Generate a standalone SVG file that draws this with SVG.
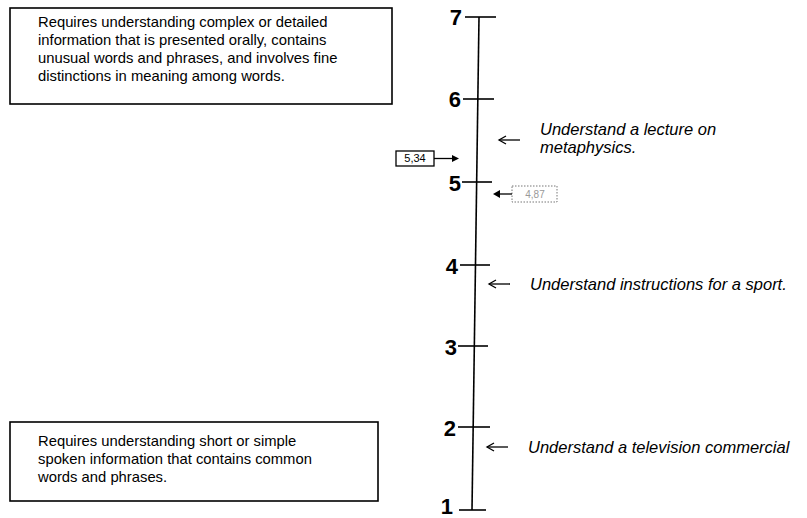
<svg xmlns="http://www.w3.org/2000/svg" width="807" height="518" viewBox="0 0 807 518">
<style>
.box{fill:#fff;stroke:#000;stroke-width:1.6}
.bt{font-family:"Liberation Sans",Arial,sans-serif;font-size:14.8px;fill:#000}
.it{font-family:"Liberation Sans",Arial,sans-serif;font-size:16.5px;font-style:italic;fill:#000}
.num{font-family:"Liberation Sans",Arial,sans-serif;font-size:22px;font-weight:bold;fill:#000;text-anchor:end}
.ax{stroke:#000;stroke-width:1.6;fill:none}
.ar{stroke:#000;stroke-width:1.3;fill:none}
</style>
<rect width="807" height="518" fill="#fff"/>
<g id="box-high">
<rect class="box" x="10" y="8" width="382" height="96"/>
<text class="bt" x="38" y="27">Requires understanding complex or detailed</text>
<text class="bt" x="38" y="45">information that is presented orally, contains</text>
<text class="bt" x="38" y="63">unusual words and phrases, and involves fine</text>
<text class="bt" x="38" y="81">distinctions in meaning among words.</text>
</g>
<g id="box-low">
<rect class="box" x="10" y="422" width="368" height="79"/>
<text class="bt" x="38" y="446">Requires understanding short or simple</text>
<text class="bt" x="38" y="464">spoken information that contains common</text>
<text class="bt" x="38" y="482">words and phrases.</text>
</g>
<g id="scale">
<line class="ax" x1="479" y1="17" x2="472" y2="510"/>
<line class="ax" x1="465" y1="17" x2="496" y2="17"/>
<line class="ax" x1="463" y1="99" x2="494" y2="99"/>
<line class="ax" x1="462" y1="182" x2="492" y2="182"/>
<line class="ax" x1="460" y1="265" x2="490" y2="265"/>
<line class="ax" x1="458" y1="346" x2="488" y2="346"/>
<line class="ax" x1="458" y1="427" x2="490" y2="427"/>
<line class="ax" x1="459" y1="510" x2="486" y2="510"/>
<text class="num" x="462" y="25">7</text>
<text class="num" x="461" y="107">6</text>
<text class="num" x="461" y="191">5</text>
<text class="num" x="458" y="274">4</text>
<text class="num" x="457" y="355">3</text>
<text class="num" x="456" y="436">2</text>
<text class="num" x="453" y="514">1</text>
</g>
<g id="score-534">
<rect x="396" y="151" width="38" height="15" fill="#fff" stroke="#000" stroke-width="1.3"/>
<text x="415" y="162" font-family="Liberation Sans,Arial,sans-serif" font-size="11" text-anchor="middle">5,34</text>
</g>
<g id="score-487">
<rect x="512" y="186" width="45" height="16" fill="#fff" stroke="#777" stroke-width="1" stroke-dasharray="1.5,1.5"/>
<text x="535" y="198" font-family="Liberation Sans,Arial,sans-serif" font-size="10" fill="#999" text-anchor="middle">4,87</text>
</g>
<g id="label-metaphysics">
<text class="it" x="540" y="135">Understand a lecture on</text>
<text class="it" x="540" y="153">metaphysics.</text>
</g>
<g id="label-sport">
<text class="it" x="530" y="290">Understand instructions for a sport.</text>
</g>
<g id="label-tv">
<text class="it" x="528" y="453">Understand a television commercial</text>
</g>
<g id="connectors">
<line class="ar" x1="520" y1="140" x2="499" y2="140"/>
<polyline class="ar" points="506,136 499,140 506,144"/>
<line class="ar" x1="510" y1="284" x2="489" y2="284"/>
<polyline class="ar" points="496,280 489,284 496,288"/>
<line class="ar" x1="508" y1="447" x2="487" y2="447"/>
<polyline class="ar" points="494,443 487,447 494,451"/>
<line class="ar" x1="434" y1="158.5" x2="454" y2="158.5"/>
<polygon points="459,158.5 452,155 452,162" fill="#000"/>
<line class="ar" x1="512" y1="194" x2="498" y2="194"/>
<polygon points="493,194 500,190 500,198" fill="#000"/>
</g>
</svg>
